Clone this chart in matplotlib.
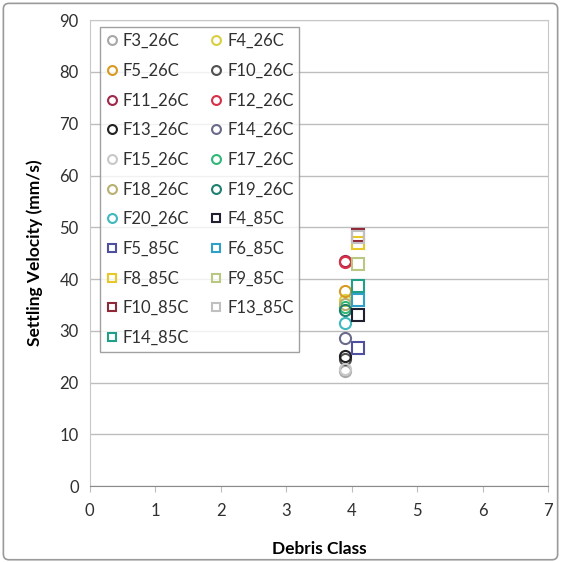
import matplotlib.pyplot as plt
from matplotlib.patches import FancyBboxPatch

plt.rcParams['font.family'] = ['Lato', 'DejaVu Sans']

# settling velocity (mm/s) per test; 26C runs sit at class 3.9, 85C runs at 4.1
names_26c = ["F3_26C", "F4_26C", "F5_26C", "F10_26C", "F11_26C", "F12_26C",
             "F13_26C", "F14_26C", "F15_26C", "F17_26C", "F18_26C", "F19_26C",
             "F20_26C"]
vel_26c = [22.2, 36.0, 37.6, 24.6, 43.4, 43.2, 25.1, 28.6, 22.6, 34.6, 35.2,
           34.0, 31.6]
colors_26c = ["#a8a8a8", "#d8d040", "#d89a20", "#505050", "#a02848", "#d83048",
              "#202020", "#6a6a8a", "#c8c8c8", "#30b878", "#b8b070", "#208070",
              "#40b8c0"]

names_85c = ["F4_85C", "F5_85C", "F6_85C", "F8_85C", "F9_85C", "F10_85C",
             "F13_85C", "F14_85C"]
vel_85c = [33.0, 26.6, 35.9, 47.0, 43.0, 48.6, 48.2, 38.7]
colors_85c = ["#202030", "#5050a0", "#30a0c8", "#e8c828", "#b8c880", "#902838",
              "#c0c0c0", "#20a088"]

class_26c = 3.9
class_85c = 4.1

fig = plt.figure(figsize=(5.61, 5.62), dpi=100)
ax = fig.add_axes([0.160, 0.135, 0.817, 0.829])

fig.patches.append(FancyBboxPatch((0.006, 0.004), 0.988, 0.99,
                                  boxstyle="round,pad=0,rounding_size=0.01",
                                  transform=fig.transFigure, fill=False,
                                  edgecolor="#9a9a9a", linewidth=1.2))

handles = []
for name, v, c in zip(names_26c, vel_26c, colors_26c):
    h, = ax.plot([class_26c], [v], linestyle="none", marker="o", markersize=8,
                 markerfacecolor="none", markeredgecolor=c, markeredgewidth=1.5,
                 label=name)
    handles.append(h)
for name, v, c in zip(names_85c, vel_85c, colors_85c):
    h, = ax.plot([class_85c], [v], linestyle="none", marker="s", markersize=8,
                 markerfacecolor="none", markeredgecolor=c, markeredgewidth=1.5,
                 label=name)
    handles.append(h)

# legend reads row by row, so split entries into two columns
order = handles[0::2] + handles[1::2]
leg = ax.legend(handles=order, ncol=2, loc="upper left",
                bbox_to_anchor=(0.022, 0.985), frameon=True, fancybox=False,
                edgecolor="#8a8a8a", fontsize=12, handlelength=0.7,
                handletextpad=0.3, columnspacing=1.3, labelspacing=0.82,
                borderpad=0.35, markerscale=0.8, borderaxespad=0)
leg.get_frame().set_linewidth(1.0)
for t in leg.get_texts():
    t.set_color("#303030")

ax.set_xlim(0, 7)
ax.set_ylim(0, 90)
ax.set_xticks(range(0, 8))
ax.set_yticks(range(0, 91, 10))
ax.yaxis.grid(True, color="#bdbdbd", linewidth=1.0)
ax.set_axisbelow(True)
ax.tick_params(axis="both", labelsize=12, colors="#303030", length=0, pad=8)
ax.tick_params(axis="x", length=4, color="#bdbdbd", direction="out")
for side in ["top", "right", "left"]:
    ax.spines[side].set_color("#c8c8c8")
ax.spines["bottom"].set_color("#8a8a8a")

ax.set_xlabel("Debris Class", fontsize=12.5, fontweight="bold", labelpad=16)
ax.set_ylabel("Settling Velocity (mm/s)", fontsize=12.5, fontweight="bold",
              labelpad=12)

fig.savefig("out.png", dpi=100)
